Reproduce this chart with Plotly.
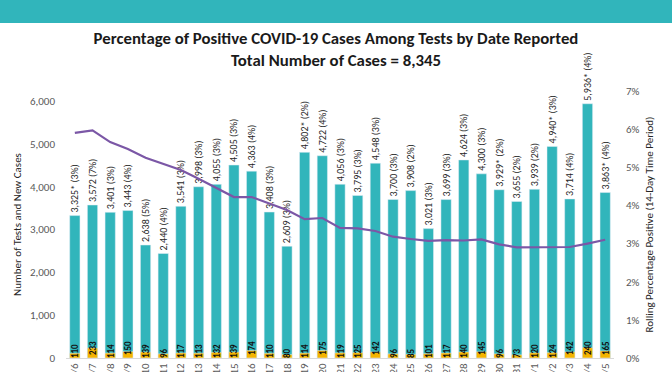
import plotly.graph_objects as go

dates = ["7/6", "7/7", "7/8", "7/9", "7/10", "7/11", "7/12", "7/13", "7/14", "7/15",
         "7/16", "7/17", "7/18", "7/19", "7/20", "7/21", "7/22", "7/23", "7/24", "7/25",
         "7/26", "7/27", "7/28", "7/29", "7/30", "7/31", "8/1", "8/2", "8/3", "8/4", "8/5"]
tests = [3325, 3572, 3401, 3443, 2638, 2440, 3541, 3998, 4055, 4505,
         4363, 3408, 2609, 4802, 4722, 4056, 3795, 4548, 3700, 3908,
         3021, 3699, 4624, 4300, 3929, 3655, 3939, 4940, 3714, 5936, 3863]
star = [1, 0, 0, 0, 0, 0, 0, 0, 0, 0,
        0, 0, 0, 1, 0, 0, 0, 0, 0, 0,
        0, 0, 0, 0, 1, 0, 0, 1, 0, 1, 1]
daily_pct = [3, 7, 3, 4, 5, 4, 3, 3, 3, 3,
             4, 3, 3, 2, 4, 3, 3, 3, 3, 2,
             3, 3, 3, 3, 2, 2, 2, 3, 4, 4, 4]
cases = [110, 233, 114, 150, 139, 96, 117, 113, 132, 139,
         174, 110, 80, 114, 175, 119, 125, 142, 96, 85,
         101, 117, 140, 145, 96, 73, 120, 124, 142, 240, 165]
rolling_pct = [5.90, 5.97, 5.66, 5.48, 5.25, 5.08, 4.93, 4.70, 4.45, 4.22,
               4.22, 4.04, 3.88, 3.64, 3.67, 3.41, 3.40, 3.33, 3.18, 3.12,
               3.07, 3.09, 3.08, 3.11, 2.98, 2.90, 2.90, 2.90, 2.91, 3.00, 3.10]

tests_labels = [f"{t:,}{'*' if s else ''} ({p}%)" for t, s, p in zip(tests, star, daily_pct)]
case_labels = [str(c) for c in cases]
rolling = [v / 100 for v in rolling_pct]

TEAL = "#31B5BB"
ORANGE = "#F4B400"
PURPLE = "#7B57A6"
FONT = "Carlito, Lato, sans-serif"

fig = go.Figure()
fig.add_trace(go.Bar(
    x=dates, y=tests, marker_color=TEAL, text=tests_labels,
    textposition="outside", textangle=-90, constraintext="none",
    textfont=dict(family=FONT, size=10, color="#262626"),
    cliponaxis=False, hoverinfo="skip", name="Tests",
))
fig.add_trace(go.Bar(
    x=dates, y=cases, marker_color=ORANGE, text=case_labels,
    textposition="inside", insidetextanchor="start", textangle=-90,
    constraintext="none",
    textfont=dict(family=FONT, size=9, color="#111111", weight="bold"),
    cliponaxis=False, hoverinfo="skip", name="Cases",
))
fig.add_trace(go.Scatter(
    x=dates, y=rolling, yaxis="y2", mode="lines",
    line=dict(color=PURPLE, width=2.2), hoverinfo="skip", name="Rolling",
))

W, H = 672, 372
ml, mr, mt, mb = 66, 58, 91, 14
ph = H - mt - mb

fig.update_layout(
    width=W, height=H,
    margin=dict(l=ml, r=mr, t=mt, b=mb, autoexpand=False),
    paper_bgcolor="white", plot_bgcolor="white",
    barmode="overlay", bargap=0.42,
    showlegend=False,
    font=dict(family=FONT, color="#595959", size=11),
    title=dict(
        text="<b>Percentage of Positive COVID-19 Cases Among Tests by Date Reported<br>Total Number of Cases = 8,345</b>",
        x=0.5, xref="container", xanchor="center",
        y=1 - 44 / H, yref="container", yanchor="middle",
        font=dict(family=FONT, size=16.8, color="#1a1a1a"),
    ),
    xaxis=dict(
        type="category", tickangle=-90, automargin=False,
        showline=True, linecolor="#D9D9D9", linewidth=1,
        ticks="", tickfont=dict(size=11, color="#595959"),
        showgrid=False,
    ),
    yaxis=dict(
        range=[0, 6234], tickvals=[0, 1000, 2000, 3000, 4000, 5000, 6000],
        tickformat=",d", showgrid=False, zeroline=False, automargin=False,
        ticklabelstandoff=10,
        title=dict(text="Number of Tests and New Cases", standoff=6,
                   font=dict(size=11, color="#262626")),
    ),
    yaxis2=dict(
        overlaying="y", side="right", range=[0, 0.07], dtick=0.01,
        tickformat=".0%", showgrid=False, zeroline=False, automargin=False,
        ticklabelstandoff=11,
        title=dict(text="Rolling Percentage Positive (14-Day Time Period)", standoff=6,
                   font=dict(size=11, color="#262626")),
    ),
    shapes=[dict(
        type="rect", xref="paper", yref="paper",
        x0=-ml / (W - ml - mr), x1=(W - ml) / (W - ml - mr),
        y0=(H - mb - 23) / ph, y1=(H - mb) / ph,
        fillcolor=TEAL, line=dict(width=0), layer="above",
    )],
)

fig.write_html("out.html", config={"displayModeBar": False},
               post_script="document.body.style.margin='0';")
